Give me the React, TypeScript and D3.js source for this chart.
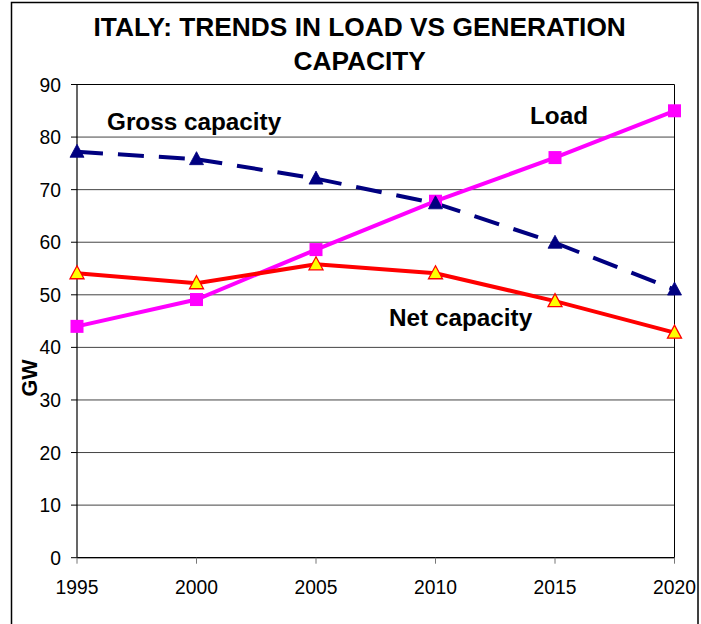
import React from "react";
import * as d3 from "d3";

const years = [1995, 2000, 2005, 2010, 2015, 2020];
const grossCapacity = [77.2, 75.8, 72.1, 67.4, 59.9, 51.0];
const load = [44.0, 49.1, 58.6, 67.8, 76.1, 85.0];
const netCapacity = [54.1, 52.2, 55.8, 54.1, 48.8, 42.8];
const yTicks = [0, 10, 20, 30, 40, 50, 60, 70, 80, 90];
const titleLines = ["ITALY: TRENDS IN LOAD VS GENERATION", "CAPACITY"];

const W = 701;
const H = 624;
const left = 77;
const right = 674.5;
const top = 84.5;
const bottom = 557.7;

export default function App() {
  const x = d3.scaleLinear().domain([1995, 2020]).range([left, right]);
  const y = d3.scaleLinear().domain([0, 90]).range([bottom, top]);
  const line = d3
    .line<[number, number]>()
    .x((d) => x(d[0]))
    .y((d) => y(d[1]));
  const pts = (vals: number[]) => years.map((yr, i) => [yr, vals[i]] as [number, number]);
  const tri = (cx: number, cy: number) =>
    `M${cx},${cy - 7.5} L${cx + 7},${cy + 5.5} L${cx - 7},${cy + 5.5} Z`;
  const font = "Arial, 'Liberation Sans', sans-serif";
  const gp = pts(grossCapacity);

  return (
    <svg
      width={W}
      height={H}
      style={{ position: "absolute", left: 0, top: 0, background: "#fff" }}
      fontFamily={font}
    >
      <rect x={0} y={0} width={W} height={H} fill="#fff" />
      <rect x={11.5} y={2.5} width={686.5} height={640} fill="none" stroke="#000" strokeWidth={1.5} />
      {titleLines.map((t, i) => (
        <text
          key={i}
          x={359.7}
          y={36 + i * 34}
          textAnchor="middle"
          fontSize={26.3}
          fontWeight="bold"
          fill="#000"
        >
          {t}
        </text>
      ))}
      {yTicks.map((t) => (
        <line
          key={t}
          x1={left}
          x2={right}
          y1={y(t)}
          y2={y(t)}
          stroke={t === 90 ? "#000" : "#444"}
          strokeWidth={1}
        />
      ))}
      <line x1={right} x2={right} y1={top} y2={bottom} stroke="#000" strokeWidth={1} />
      <line x1={left} x2={left} y1={top} y2={bottom} stroke="#000" strokeWidth={1.2} />
      <line x1={left} x2={right} y1={bottom} y2={bottom} stroke="#000" strokeWidth={1.2} />
      {yTicks.map((t) => (
        <g key={"yt" + t}>
          <line x1={left - 6} x2={left} y1={y(t)} y2={y(t)} stroke="#000" />
          <text x={61} y={y(t) + 7} textAnchor="end" fontSize={19.3} fill="#000">
            {t}
          </text>
        </g>
      ))}
      {years.map((yr) => (
        <g key={"xt" + yr}>
          <line x1={x(yr)} x2={x(yr)} y1={bottom} y2={bottom + 6} stroke="#777" />
          <text x={x(yr)} y={594} textAnchor="middle" fontSize={19.3} fill="#000">
            {yr}
          </text>
        </g>
      ))}
      <text
        transform={`translate(36.5,378) rotate(-90)`}
        textAnchor="middle"
        fontSize={21.5}
        fontWeight="bold"
        fill="#000"
      >
        GW
      </text>
      {gp.slice(1).map((p, i) => (
        <path
          key={"gs" + i}
          d={line([gp[i], p]) || ""}
          fill="none"
          stroke="#000080"
          strokeWidth={4}
          strokeDasharray="26 15"
        />
      ))}
      <path d={line(pts(load)) || ""} fill="none" stroke="#FF00FF" strokeWidth={4} />
      <path d={line(pts(netCapacity)) || ""} fill="none" stroke="#FF0000" strokeWidth={4} />
      {pts(load).map((p, i) => (
        <rect key={"l" + i} x={x(p[0]) - 6.5} y={y(p[1]) - 6.5} width={13} height={13} fill="#FF00FF" />
      ))}
      {gp.map((p, i) => (
        <path key={"g" + i} d={tri(x(p[0]), y(p[1]))} fill="#000080" stroke="#000080" strokeWidth={0.8} />
      ))}
      {pts(netCapacity).map((p, i) => (
        <path key={"n" + i} d={tri(x(p[0]), y(p[1]))} fill="#FFFF00" stroke="#FF0000" strokeWidth={1.3} />
      ))}
      <text x={107} y={130} fontSize={24.3} fontWeight="bold" fill="#000">
        Gross capacity
      </text>
      <text x={530} y={124} fontSize={24.3} fontWeight="bold" fill="#000">
        Load
      </text>
      <text x={389} y={326} fontSize={24.3} fontWeight="bold" fill="#000">
        Net capacity
      </text>
    </svg>
  );
}
